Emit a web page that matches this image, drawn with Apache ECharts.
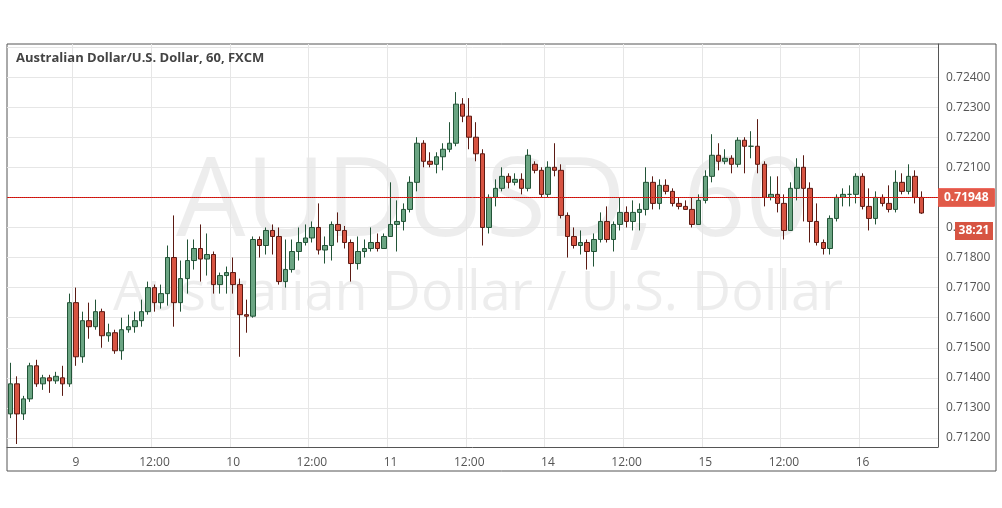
<!DOCTYPE html>
<html>
<head>
<meta charset="utf-8">
<script src="https://cdn.jsdelivr.net/npm/echarts@6/dist/echarts.min.js"></script>
<style>
  html, body { margin: 0; padding: 0; background: #fff; }
  #chart { width: 1002px; height: 508px; }
</style>
</head>
<body>
<div id="chart"></div>
<script>
// hourly AUD/USD candles, values are price x 10000
var opens = [
  7128,7138,7128,7133,7144,7138,7140,7139,7140,7138,
  7165,7147,7159,7157,7162,7154,7155,7149,7156,7157,
  7159,7162,7170,7165,7168,7180,7165,7173,7179,7183,
  7179.5,7181,7171,7174,7175,7171,7161,7160.5,7186,7184,
  7189,7187,7172,7176,7182,7185,7186.5,7190,7182.5,7184,
  7191,7189,7185,7178,7182,7183,7185,7183,7187,7191,
  7192,7196,7205,7218,7212,7211,7213.5,7216,7218,7231,
  7227,7220,7214.5,7190,7200,7203,7207,7205,7206,7203,
  7211,7209,7201,7210,7209,7194,7187,7184,7185,7182,
  7186,7192,7186,7191,7195,7192,7195,7196,7205,7198,
  7204,7202,7198,7197,7196,7191,7199,7207,7214,7212,
  7213,7211,7219,7217,7217,7211,7200,7201,7198,7189,
  7203,7210,7203,7192,7185,7183,7193,7200,7201,7201,
  7207,7197,7193,7200,7198,7196,7205,7202,7207,7200
];
var closes = [
  7138,7128,7133,7144,7138,7140,7139,7140.5,7138,7165,
  7147,7159,7157,7162,7154,7155,7149,7156,7157,7159,
  7162,7170,7165,7168,7180,7165,7173,7179,7183,7179.5,
  7181,7171,7174,7175,7171,7161,7160.5,7186,7184,7189,
  7187,7172,7176,7182,7185,7186.5,7190,7182.5,7184,7191,
  7189,7185,7178,7182,7183,7185,7183,7187,7191,7192,
  7196,7205,7218,7212,7211,7213.5,7216,7218,7231,7227,
  7220,7214.5,7190,7200,7203,7207,7205,7206,7203,7214,
  7209,7201,7210,7209,7194,7187,7184,7185,7182,7186,
  7192,7186,7191,7195,7192,7195,7196,7205,7198,7204,
  7202,7198,7197,7196,7191,7199,7207,7214,7212,7213,
  7211,7219,7217,7217,7211,7200,7201,7198,7189,7203,
  7210,7203,7192,7185,7183,7193,7200,7201,7201,7207,
  7197,7193,7200,7198,7196,7205,7202,7207,7200,7194.8
];
var highs = [
  7145,7140.5,7134,7145,7146,7141,7141,7142,7144,7168,
  7170,7162,7165,7166,7163,7158,7156,7160,7161,7162,
  7166,7172,7171,7171,7184,7194,7179,7186,7186,7191,
  7188,7182,7175,7177,7180,7173,7166,7187,7187,7190,
  7191,7190,7186,7186,7190,7191,7192,7198,7187,7192,
  7195,7190.5,7186,7187,7186,7190,7188,7188,7205,7199,
  7198,7207,7220,7219,7215,7215,7218,7225,7235,7233,
  7233,7225,7216,7201,7206,7210,7208,7208,7208,7216,
  7212,7210,7212,7218,7211,7195,7190,7189,7186,7188,
  7195,7197,7192,7200,7197,7199,7198,7210,7207,7206,
  7206,7203,7200,7199,7200,7201,7209,7221,7218,7216,
  7214,7220,7220,7222,7226,7212,7207,7207,7201,7205,
  7213,7214,7205,7198,7186,7194,7201,7203,7204,7208,
  7208,7203,7202,7201,7204,7209,7208,7211,7209,7202
];
var lows = [
  7126.6,7118,7126,7132,7137,7136,7135,7138,7134,7137,
  7144,7145,7153,7156,7150,7152,7148,7146,7155,7155,
  7157,7161,7162,7163,7164,7157,7162,7168,7176,7172,
  7174,7168,7168,7168,7168,7147,7155,7160,7180,7181,
  7181,7171,7170,7175,7179,7184,7185,7181,7178,7179,
  7185,7183,7172,7176,7180,7182,7182,7183,7187,7182,
  7189,7195,7202,7210,7210,7208,7209,7215,7217,7225,
  7216,7212,7184,7188,7197,7202,7203,7204,7201,7202,
  7208,7200,7200,7207,7193,7180,7183,7181,7176,7177,
  7185,7185,7182,7189,7190,7189,7189,7194,7196,7196,
  7201,7197,7196,7196,7190,7191,7198,7205,7209,7211,
  7208,7210,7208,7213,7208,7197,7199,7195,7186,7189,
  7199,7192,7185,7184,7181,7181,7192,7197,7197,7198,
  7196,7189,7191,7197,7195,7195,7201,7201,7198,7194.5
];
var resistance = 0.72472;
var support = 0.71469;
var lastPrice = 0.71948;

// hour slots: 8th 14:00 .. 11th 23:00, then 14th 00:00 .. 16th 11:00
var times = [];
(function() {
  var day = 8, hour = 14;
  for (var i = 0; i < 142; i++) {
    times.push(day + ' ' + (hour < 10 ? '0' : '') + hour + ':00');
    hour++;
    if (hour == 24) { hour = 0; day = (day == 11) ? 14 : day + 1; }
  }
})();

var candles = [];
for (var i = 0; i < opens.length; i++) {
  candles.push([opens[i] / 10000, closes[i] / 10000, lows[i] / 10000, highs[i] / 10000]);
}

function isMark(v) {
  var h = v.split(' ')[1];
  return h == '00:00' || h == '12:00';
}

var chart = echarts.init(document.getElementById('chart'));
var gridColors = [];
for (var k = 0; k < 10; k++) gridColors.push(k == 3 ? '#e6e6e6' : 'rgba(0,0,0,0)');

var lineLabel = {
  show: true, position: 'end', distance: 0, color: '#fff', fontWeight: 'bold', fontSize: 12,
  fontFamily: '"Open Sans", sans-serif', padding: [3, 6]
};

chart.setOption({
  animation: false,
  grid: { left: 7, top: 44, right: 64, bottom: 61 },
  graphic: [
    { type: 'rect', shape: { x: 7, y: 44, width: 989, height: 427 }, style: { fill: 'none', stroke: '#555', lineWidth: 1 }, z: 0 },
    { type: 'text', left: 176, top: 150, z: 0, style: { text: 'AUDUSD, 60', font: '110px "Open Sans", sans-serif', fill: 'rgba(0,0,0,0.07)' } },
    { type: 'text', left: 113, top: 268, z: 0, style: { text: 'Australian Dollar / U.S. Dollar', font: '54px "Open Sans", sans-serif', fill: 'rgba(0,0,0,0.07)' } },
    { type: 'text', left: 16, top: 52, z: 10, style: { text: 'Australian Dollar/U.S. Dollar, 60, FXCM', font: 'bold 13px "Open Sans", sans-serif', fill: '#444' } },
    { type: 'rect', shape: { x: 955, y: 222, width: 38, height: 18 }, style: { fill: '#d75442' }, z: 10 },
    { type: 'text', x: 974, y: 231, z: 11, style: { text: '38:21', font: 'bold 12px "Open Sans", sans-serif', fill: '#fff', align: 'center', verticalAlign: 'middle' } }
  ],
  xAxis: {
    type: 'category',
    data: times,
    boundaryGap: true,
    axisLine: { lineStyle: { color: '#555' } },
    axisTick: { interval: function(i, v) { return isMark(v); }, lineStyle: { color: '#555' } },
    axisLabel: {
      interval: function(i, v) { return isMark(v); },
      color: '#555', fontSize: 12, margin: 10,
      fontFamily: '"Open Sans", sans-serif',
      formatter: function(v) {
        var p = v.split(' ');
        return p[1] == '00:00' ? p[0] : p[1];
      }
    },
    splitLine: { show: true, interval: function(i, v) { return isMark(v); }, lineStyle: { color: '#e6e6e6' } }
  },
  yAxis: {
    type: 'value',
    position: 'right',
    min: 0.7117,
    max: 0.7251,
    interval: 0.0001,
    axisLine: { show: true, lineStyle: { color: '#555' } },
    axisTick: { show: false },
    axisLabel: {
      color: '#555', fontSize: 12, margin: 8,
      fontFamily: '"Open Sans", sans-serif',
      formatter: function(v) {
        return (Math.round(v * 10000) % 10 == 0 && v < 0.7245) ? v.toFixed(5) : '';
      }
    },
    splitLine: { show: true, lineStyle: { color: gridColors } }
  },
  series: [{
    type: 'candlestick',
    data: candles,
    barWidth: 5,
    itemStyle: {
      color: '#6ba583', color0: '#d75442',
      borderColor: '#225437', borderColor0: '#5b1a13',
      borderWidth: 1
    }
  }, {
    type: 'line',
    data: [],
    silent: true,
    markLine: {
      symbol: 'none',
      silent: true,
      data: [
        { yAxis: resistance, lineStyle: { color: '#e00000', type: 'solid', width: 1 },
          label: Object.assign({}, lineLabel, { backgroundColor: '#ff0000', formatter: resistance.toFixed(5) }) },
        { yAxis: support, lineStyle: { color: '#000080', type: 'solid', width: 1 },
          label: Object.assign({}, lineLabel, { backgroundColor: '#0000ff', formatter: support.toFixed(5) }) },
        { yAxis: lastPrice, lineStyle: { color: '#c0392b', type: 'dotted', width: 1 },
          label: Object.assign({}, lineLabel, { backgroundColor: '#e05a48', formatter: lastPrice.toFixed(5) }) }
      ]
    }
  }]
});
</script>
</body>
</html>
